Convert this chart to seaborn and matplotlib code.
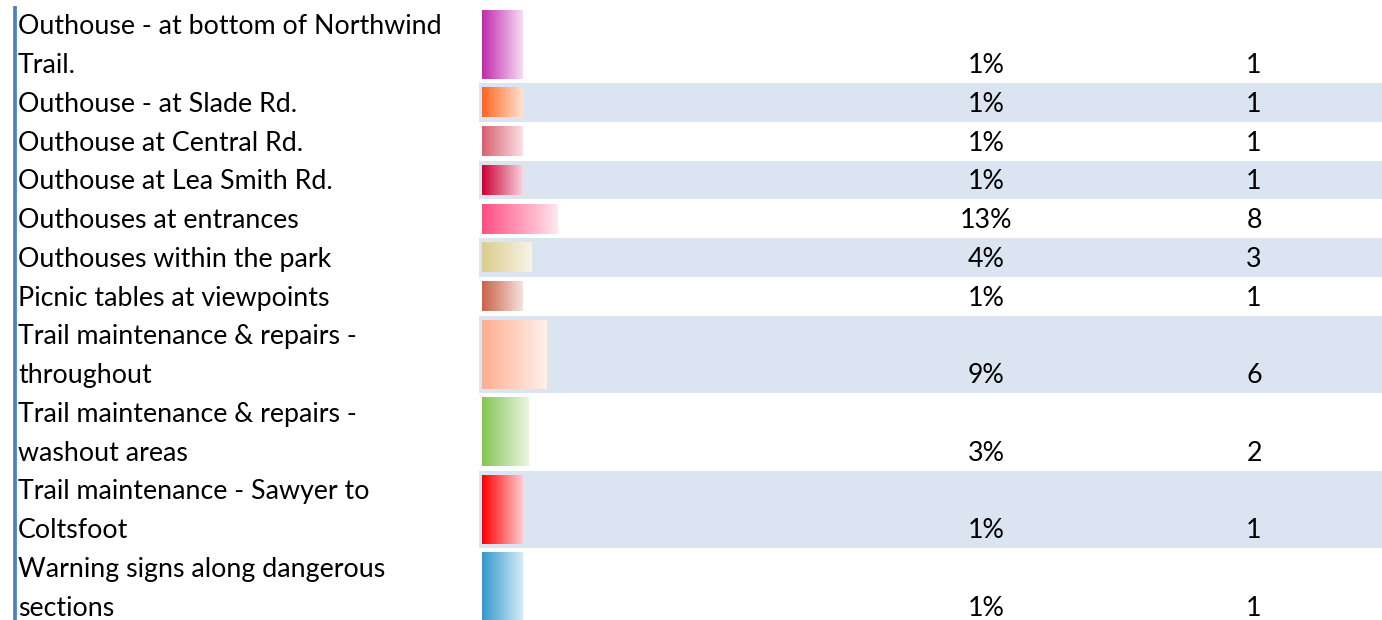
import numpy as np
import matplotlib
matplotlib.use("Agg")
import matplotlib.pyplot as plt
import matplotlib.transforms as mtransforms
from matplotlib.colors import to_rgb
import seaborn as sns

# donnees
labels = [
    "Outhouse - at bottom of Northwind\nTrail.",
    "Outhouse - at Slade Rd.",
    "Outhouse at Central Rd.",
    "Outhouse at Lea Smith Rd.",
    "Outhouses at entrances",
    "Outhouses within the park",
    "Picnic tables at viewpoints",
    "Trail maintenance & repairs -\nthroughout",
    "Trail maintenance & repairs -\nwashout areas",
    "Trail maintenance - Sawyer to\nColtsfoot",
    "Warning signs along dangerous\nsections",
]
percents = [1, 1, 1, 1, 13, 4, 1, 9, 3, 1, 1]
counts = [1, 1, 1, 1, 8, 3, 1, 6, 2, 1, 1]
start_colors = ["#C12CAE", "#FF6620", "#D9606F", "#CC0033", "#FF4F82",
                "#DCCC8C", "#C9644A", "#FFAE92", "#86C555", "#FF0000", "#3399CC"]
end_colors = ["#F4DDF1", "#FFE2D2", "#F7E1E4", "#F7D3DF", "#FFE6EE",
              "#F7F4E8", "#F4E2DE", "#FFF0EA", "#EAF5E2", "#FFCCD2", "#D6EBF5"]

W, H = 1382, 620
LINE = 38.75          # hauteur d'une ligne de texte en px
TOP = 5.5             # debut de la premiere ligne
BASE = 13             # largeur minimale des barres (en points de %)
PX_PER_PCT = 2.92
BAR_X0 = 482
FS = 19.3

sns.set_style("white")
plt.rcParams["font.family"] = ["Lato", "DejaVu Sans"]

fig = plt.figure(figsize=(W / 100, H / 100), dpi=100)
ax = fig.add_axes([0, 0, 1, 1])

x_left = -BASE - BAR_X0 / PX_PER_PCT
ax.axis("off")

blend = mtransforms.blended_transform_factory(ax.transAxes, ax.transData)

# position des lignes du tableau
nlines = [len(s.split("\n")) for s in labels]
starts = np.concatenate([[0], np.cumsum(nlines)[:-1]])
centers = starts + np.array(nlines) / 2
heights = np.array(nlines) - 0.23

# fond alterne
for i, (s, n) in enumerate(zip(starts, nlines)):
    if i % 2 == 1:
        ax.axhspan(s, s + n, xmin=479 / W, xmax=1, color="#DBE5F1", lw=0, zorder=0)

# barres
bars = ax.barh(centers, np.array(percents) + BASE, height=heights, left=-BASE,
               color="none", lw=0, zorder=2)
for bar, c0, c1 in zip(bars, start_colors, end_colors):
    x0, y0 = bar.get_x(), bar.get_y()
    x1, y1 = x0 + bar.get_width(), y0 + bar.get_height()
    t = np.linspace(0, 1, 64)[:, None]
    grad = (1 - t) * np.array(to_rgb(c0)) + t * np.array(to_rgb(c1))
    ax.imshow(grad[None, :, :], extent=(x0, x1, y1, y0), aspect="auto",
              interpolation="bilinear", zorder=3)

# textes
dy = 0.55
for s, n, lab, p, c in zip(starts, nlines, labels, percents, counts):
    for j, line in enumerate(lab.split("\n")):
        ax.text(18 / W, s + j + dy, line, transform=blend, fontsize=FS,
                va="center", ha="left", color="black")
    ax.text(986 / W, s + n - 1 + dy, f"{p}%", transform=blend, fontsize=FS,
            va="center", ha="center", color="black")
    ax.text(1254 / W, s + n - 1 + dy, str(c), transform=blend, fontsize=FS,
            va="center", ha="center", color="black")

# bordure bleue a gauche
ax.plot([15 / W, 15 / W], [0, (H - TOP) / LINE], transform=blend,
        color="#4F81BD", lw=2.7, solid_capstyle="butt", zorder=4)

ax.set_xlim(x_left, x_left + W / PX_PER_PCT)
ax.set_ylim((H - TOP) / LINE, -TOP / LINE)

fig.savefig("out.png", dpi=100)
